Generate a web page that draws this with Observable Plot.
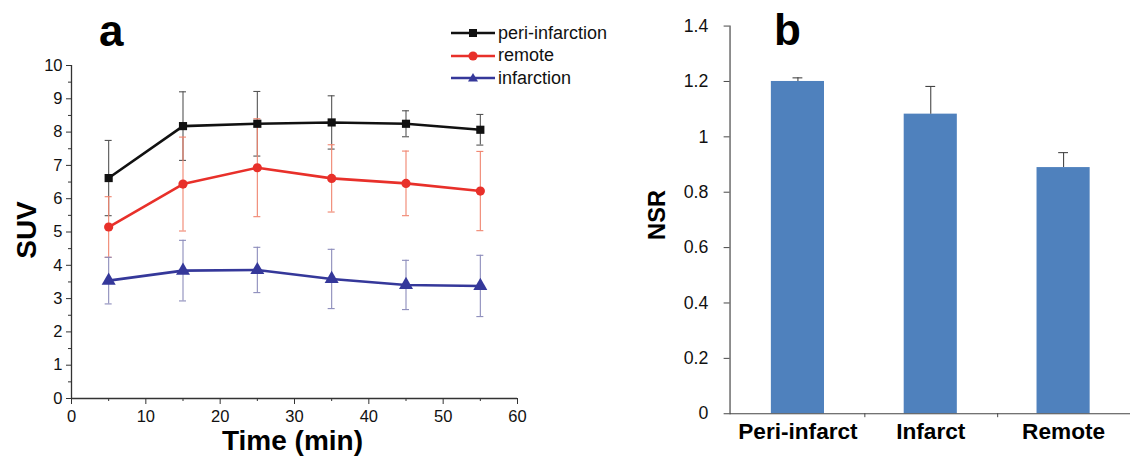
<!DOCTYPE html>
<html><head><meta charset="utf-8">
<script src="https://cdn.jsdelivr.net/npm/d3@7"></script>
<script src="https://cdn.jsdelivr.net/npm/@observablehq/plot@0.6"></script>
<style>
html,body{margin:0;padding:0;background:#fff;overflow:hidden;}
#wrap{position:relative;width:1130px;height:458px;overflow:hidden;font-family:"Liberation Sans",Arial,sans-serif;}
#chartA{position:absolute;left:0;top:0;}
#chartB{position:absolute;left:640px;top:0;}
.panel{position:absolute;font-weight:bold;font-size:44px;line-height:44px;color:#000;}
.legend{position:absolute;left:451px;top:22px;font-size:18px;color:#111;}
.legend .row{display:flex;align-items:center;height:22.5px;white-space:nowrap;}
.legend svg{display:block;margin-right:3px;}
</style></head><body>
<div id="wrap">
  <div id="chartA"></div>
  <div id="chartB"></div>
  <div class="panel" style="left:99px;top:9px">a</div>
  <div class="panel" style="left:774px;top:8px">b</div>
  <div class="legend" id="legend"></div>
</div>
<script>
// ---- Panel a data ----
const time = [5, 15, 25, 35, 45, 55];
const seriesNames = ["peri-infarction", "remote", "infarction"];
const periInfarction = [6.62, 8.18, 8.25, 8.29, 8.25, 8.07];
const periInfarctionErr = [1.13, 1.03, 0.97, 0.80, 0.39, 0.46];
const remote = [5.15, 6.44, 6.93, 6.61, 6.46, 6.23];
const remoteErr = [0.91, 1.41, 1.47, 1.01, 0.97, 1.19];
const infarction = [3.54, 3.84, 3.86, 3.59, 3.41, 3.38];
const infarctionErr = [0.70, 0.91, 0.68, 0.89, 0.74, 0.92];
const xTicks = [0, 10, 20, 30, 40, 50, 60];
const xMinorTicks = [5, 15, 25, 35, 45, 55];
const yTicks = [0, 1, 2, 3, 4, 5, 6, 7, 8, 9, 10];
const yMinorTicks = [0.5, 1.5, 2.5, 3.5, 4.5, 5.5, 6.5, 7.5, 8.5, 9.5];

// ---- Panel b data ----
const regions = ["Peri-infarct", "Infarct", "Remote"];
const nsrValues = [1.20, 1.082, 0.889];
const nsrErrors = [0.013, 0.10, 0.054];
const nsrTicks = [0, 0.2, 0.4, 0.6, 0.8, 1, 1.2, 1.4];

// styles
const styleA = {
  "peri-infarction": {line: "#111111", err: "#555555", symbol: "square", r: 4.6},
  "remote": {line: "#e8302a", err: "#f0846e", symbol: "circle", r: 4.6},
  "infarction": {line: "#35389a", err: "#8c8cbb", symbol: "triangle", r: 5.2}
};
const valuesA = [periInfarction, remote, infarction];
const errorsA = [periInfarctionErr, remoteErr, infarctionErr];
const rowsA = seriesNames.flatMap((s, k) => time.map((t, i) => ({series: s, time: t, suv: valuesA[k][i], err: errorsA[k][i]})));

const font = "'Liberation Sans', Arial, sans-serif";

const seriesMarks = seriesNames.flatMap(s => {
  const d = rowsA.filter(r => r.series === s);
  const st = styleA[s];
  return [
    Plot.ruleX(d, {x: "time", y1: r => r.suv - r.err, y2: r => r.suv + r.err, stroke: st.err, strokeWidth: 1.1}),
    Plot.ruleY(d, {y: r => r.suv + r.err, x1: "time", x2: "time", insetLeft: -3.5, insetRight: -3.5, stroke: st.err, strokeWidth: 1.1}),
    Plot.ruleY(d, {y: r => r.suv - r.err, x1: "time", x2: "time", insetLeft: -3.5, insetRight: -3.5, stroke: st.err, strokeWidth: 1.1})
  ];
});
const lineMarks = seriesNames.flatMap(s => {
  const d = rowsA.filter(r => r.series === s);
  const st = styleA[s];
  return [
    Plot.line(d, {x: "time", y: "suv", stroke: st.line, strokeWidth: 2.6}),
    Plot.dot(d, {x: "time", y: "suv", symbol: () => st.symbol, fill: st.line, stroke: "none", r: st.r})
  ];
});

const plotA = Plot.plot({
  width: 630, height: 458,
  marginLeft: 71, marginRight: 113, marginTop: 65, marginBottom: 60,
  style: {fontFamily: font, fontSize: "16px", color: "#222", background: "transparent", overflow: "visible"},
  x: {domain: [0, 60]},
  y: {domain: [0, 10]},
  symbol: {type: "identity"},
  marks: [
    Plot.axisY(yTicks, {tickSize: 5, tickPadding: 4, fontSize: 16.5, label: null, stroke: "#333", fill: "#111"}),
    Plot.axisY(yMinorTicks, {tickSize: 3, tickFormat: () => "", label: null, stroke: "#333"}),
    Plot.axisX(xTicks, {tickSize: 6, tickPadding: 6, fontSize: 16.5, label: null, stroke: "#333", fill: "#111"}),
    Plot.axisX(xMinorTicks, {tickSize: 3, tickFormat: () => "", label: null, stroke: "#333"}),
    Plot.ruleX([0], {stroke: "#333", strokeWidth: 1.3}),
    Plot.ruleY([0], {stroke: "#333", strokeWidth: 1.3}),
    ...seriesMarks,
    ...lineMarks,
    Plot.text(["SUV"], {text: d => d, frameAnchor: "left", textAnchor: "middle", lineAnchor: "middle", dx: -44, dy: -2, rotate: -90, fontSize: 28, fontWeight: "bold", fill: "#000"}),
    Plot.text(["Time (min)"], {text: d => d, frameAnchor: "bottom", textAnchor: "middle", lineAnchor: "middle", dx: -2, dy: 43, fontSize: 28, fontWeight: "bold", fill: "#000"})
  ]
});
document.getElementById("chartA").append(plotA);

// ---- Panel b ----
const rowsB = regions.map((r, i) => ({region: r, nsr: nsrValues[i], err: nsrErrors[i]}));
const plotB = Plot.plot({
  width: 498, height: 458,
  marginLeft: 91, marginRight: 0, marginTop: 26, marginBottom: 38,
  style: {fontFamily: font, fontSize: "18px", color: "#222", background: "transparent", overflow: "visible"},
  x: {domain: regions, paddingInner: 0.6, paddingOuter: 0.3},
  y: {domain: [0, 1.4]},
  marks: [
    Plot.barY(rowsB, {x: "region", y: "nsr", fill: "#4f81bd"}),
    Plot.ruleX(rowsB, {x: "region", y1: "nsr", y2: d => d.nsr + d.err, stroke: "#444", strokeWidth: 1.1}),
    Plot.tickY(rowsB, {x: "region", y: d => d.nsr + d.err, insetLeft: 22, insetRight: 22, stroke: "#444", strokeWidth: 1.1}),
    Plot.axisY(nsrTicks, {tickSize: 6, tickPadding: 16, fontSize: 18, tickFormat: d => String(d), label: null, stroke: "#444", fill: "#111"}),
    Plot.axisX({tickSize: 0, tickPadding: 9, fontSize: 23, fontWeight: "bold", label: null, fill: "#000"}),
    Plot.ruleX(regions.slice(0, 2), {x: d => d, dx: 68, y1: 0, y2: 0, insetBottom: -4, stroke: "#444"}),
    Plot.frame({anchor: "left", stroke: "#444", strokeWidth: 1.2}),
    Plot.ruleY([0], {stroke: "#444", strokeWidth: 1.2}),
    Plot.text(["NSR"], {text: d => d, frameAnchor: "left", textAnchor: "middle", lineAnchor: "middle", dx: -74, dy: -5, rotate: -90, fontSize: 24, fontWeight: "bold", fill: "#000"})
  ]
});
document.getElementById("chartB").append(plotB);

// ---- Legend (panel a) ----
const legend = document.getElementById("legend");
seriesNames.forEach(s => {
  const st = styleA[s];
  let marker;
  if (st.symbol === "square") marker = `<rect x="18" y="7" width="8" height="8" fill="${st.line}"/>`;
  else if (st.symbol === "circle") marker = `<circle cx="22" cy="11" r="4.6" fill="${st.line}"/>`;
  else marker = `<path d="M22,6 L27,14.5 L17,14.5 Z" fill="${st.line}"/>`;
  const row = document.createElement("div");
  row.className = "row";
  row.innerHTML = `<svg width="44" height="22"><line x1="0" y1="11" x2="44" y2="11" stroke="${st.line}" stroke-width="2.6"/>${marker}</svg><span>${s}</span>`;
  legend.append(row);
});
</script>
</body></html>
